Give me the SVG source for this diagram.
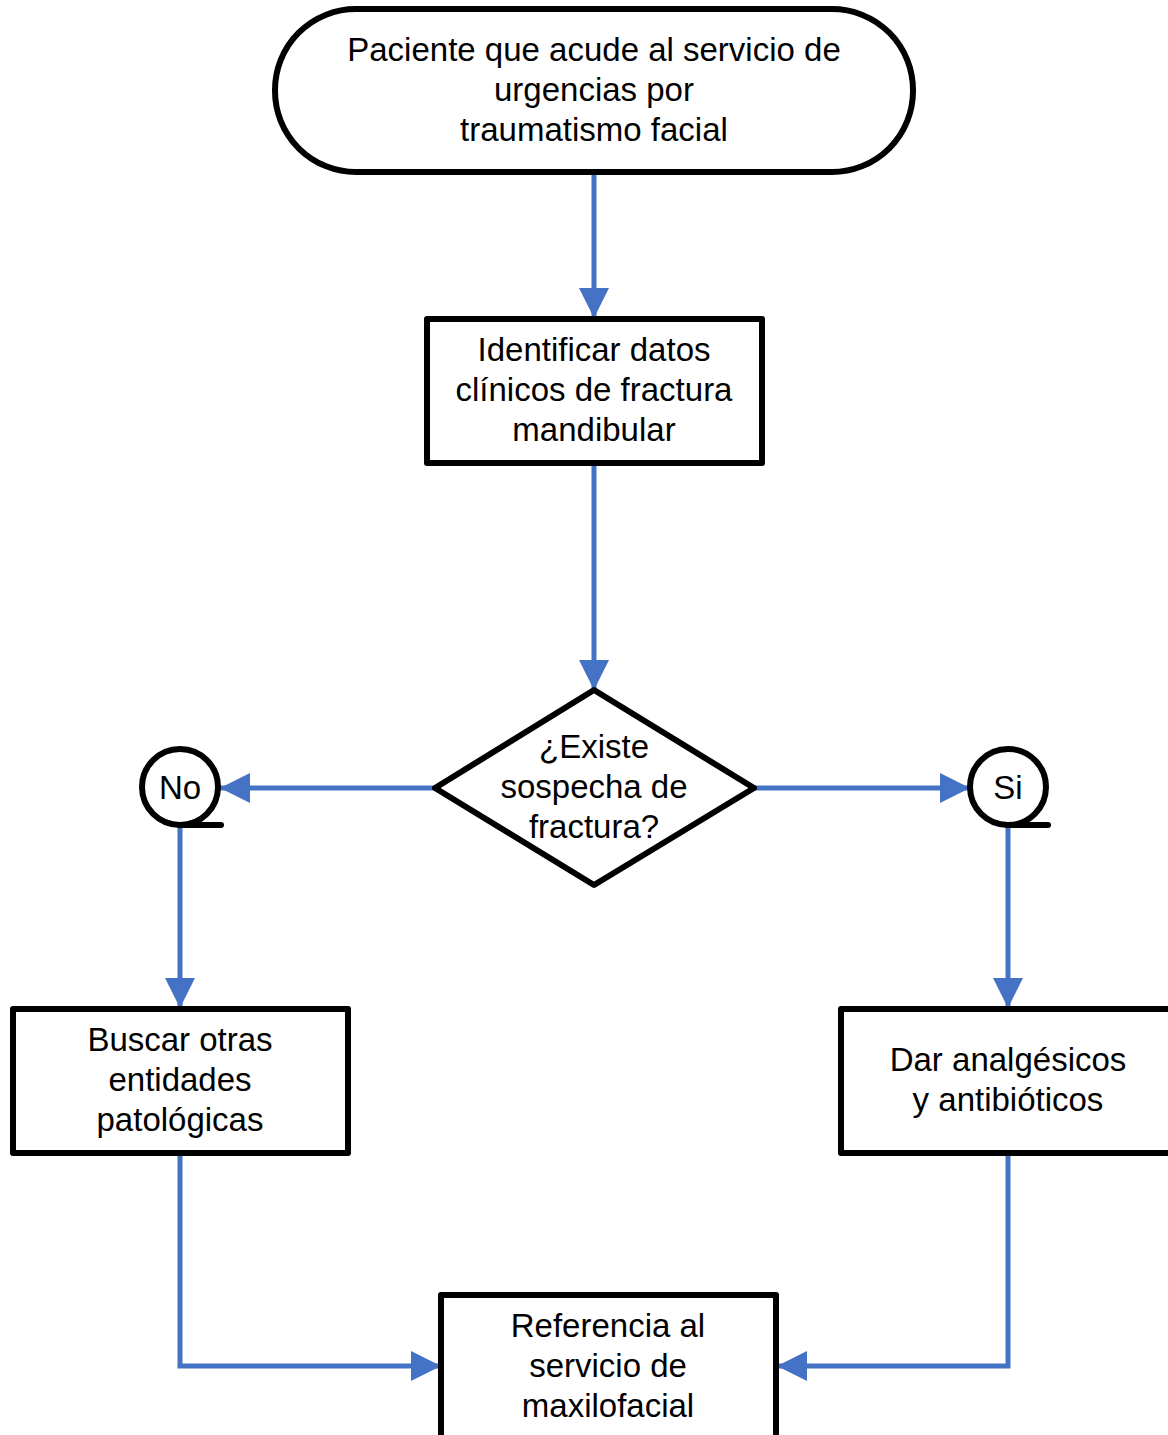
<svg xmlns="http://www.w3.org/2000/svg" width="1168" height="1435" viewBox="0 0 1168 1435">
<style>
.shape{fill:#fff;stroke:#000;stroke-width:6;stroke-linejoin:round}
.conn{fill:none;stroke:#4472C4;stroke-width:5}
.lbl{font-family:"Liberation Sans",Arial,sans-serif;font-size:33px;fill:#000;text-anchor:middle}
</style>
<defs>
<marker id="ah" viewBox="0 0 30 30" refX="30" refY="15" markerWidth="30" markerHeight="30" markerUnits="userSpaceOnUse" orient="auto">
<path d="M0,0 L30,15 L0,30 Z" fill="#4472C4"/>
</marker>
</defs>
<rect width="1168" height="1435" fill="#fff"/>
<g id="connectors">
<line class="conn" x1="594" y1="172" x2="594" y2="318" marker-end="url(#ah)"/>
<line class="conn" x1="594" y1="463" x2="594" y2="690" marker-end="url(#ah)"/>
<line class="conn" x1="435" y1="788" x2="220" y2="788" marker-end="url(#ah)"/>
<line class="conn" x1="754" y1="788" x2="970" y2="788" marker-end="url(#ah)"/>
<line class="conn" x1="180" y1="825" x2="180" y2="1008" marker-end="url(#ah)"/>
<line class="conn" x1="1008" y1="825" x2="1008" y2="1008" marker-end="url(#ah)"/>
<polyline class="conn" points="180,1153 180,1366 441,1366" marker-end="url(#ah)"/>
<polyline class="conn" points="1008,1153 1008,1366 777,1366" marker-end="url(#ah)"/>
</g>
<g id="start">
<rect class="shape" x="275" y="9" width="638" height="163" rx="81" ry="81"/>
<text class="lbl" x="594" y="61">Paciente que acude al servicio de</text>
<text class="lbl" x="594" y="101">urgencias por</text>
<text class="lbl" x="594" y="141">traumatismo facial</text>
</g>
<g id="identificar">
<rect class="shape" x="427" y="319" width="335" height="144"/>
<text class="lbl" x="594" y="361">Identificar datos</text>
<text class="lbl" x="594" y="401">clínicos de fractura</text>
<text class="lbl" x="594" y="441">mandibular</text>
</g>
<g id="decision">
<polygon class="shape" points="594,690 754,788 594,885 435,788"/>
<text class="lbl" x="594" y="758">¿Existe</text>
<text class="lbl" x="594" y="798">sospecha de</text>
<text class="lbl" x="594" y="838">fractura?</text>
</g>
<g id="no">
<line x1="180" y1="825" x2="221" y2="825" stroke="#000" stroke-width="6" stroke-linecap="round"/>
<circle class="shape" cx="180" cy="787" r="38"/>
<text class="lbl" x="180" y="799">No</text>
</g>
<g id="si">
<line x1="1008" y1="825" x2="1048" y2="825" stroke="#000" stroke-width="6" stroke-linecap="round"/>
<circle class="shape" cx="1008" cy="787" r="38"/>
<text class="lbl" x="1008" y="799">Si</text>
</g>
<g id="buscar">
<rect class="shape" x="13" y="1009" width="335" height="144"/>
<text class="lbl" x="180" y="1051">Buscar otras</text>
<text class="lbl" x="180" y="1091">entidades</text>
<text class="lbl" x="180" y="1131">patológicas</text>
</g>
<g id="dar">
<rect class="shape" x="841" y="1009" width="340" height="144"/>
<text class="lbl" x="1008" y="1071">Dar analgésicos</text>
<text class="lbl" x="1008" y="1111">y antibióticos</text>
</g>
<g id="referencia">
<rect class="shape" x="441" y="1295" width="335" height="160"/>
<text class="lbl" x="608" y="1337">Referencia al</text>
<text class="lbl" x="608" y="1377">servicio de</text>
<text class="lbl" x="608" y="1417">maxilofacial</text>
</g>
</svg>
